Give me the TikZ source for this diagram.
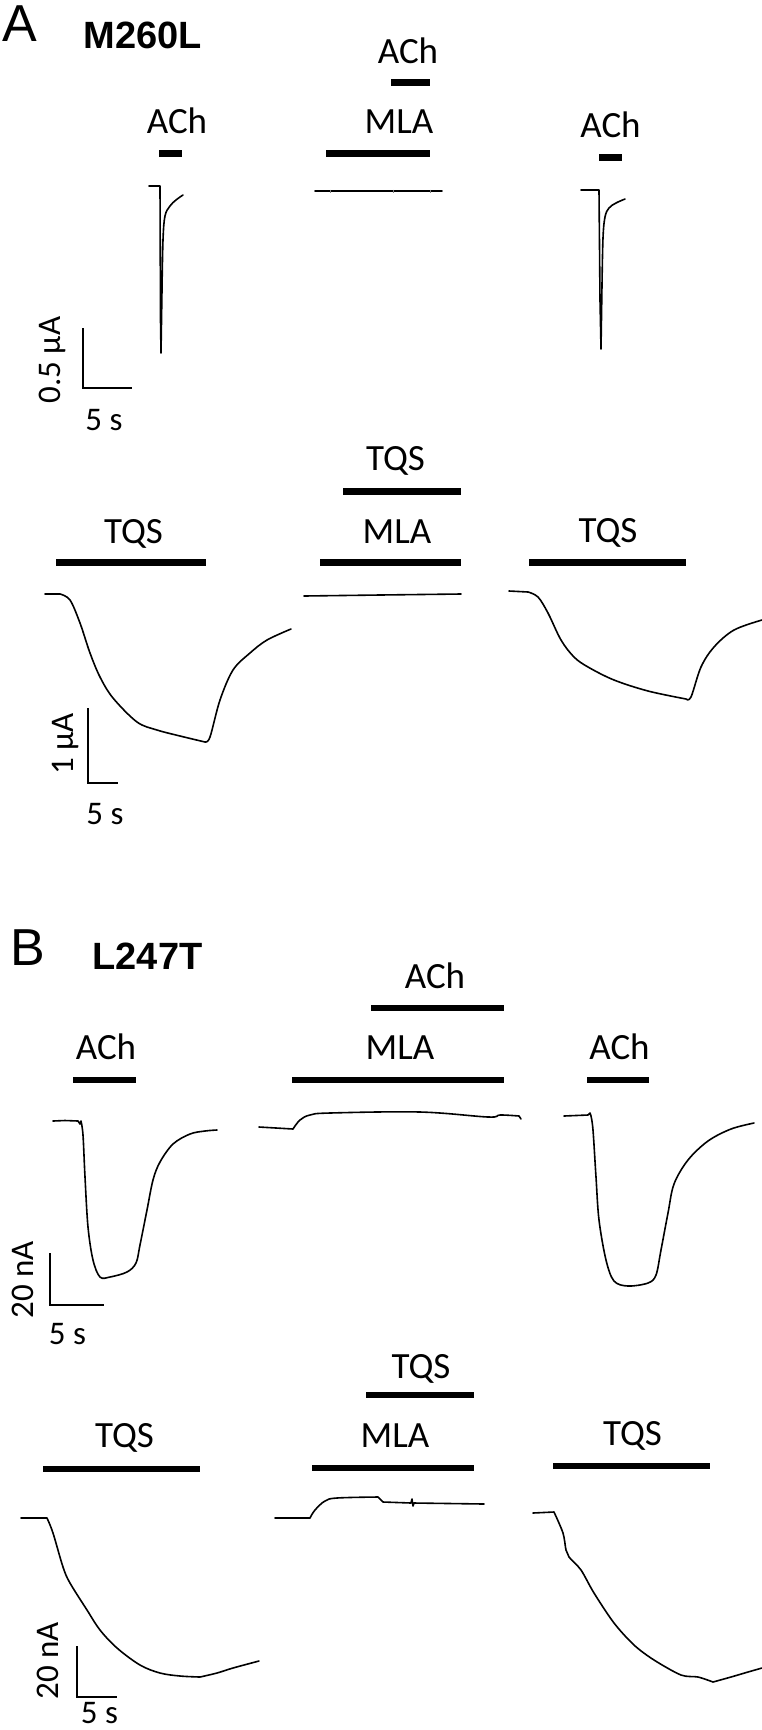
\documentclass[tikz,border=0pt]{standalone}
\usepackage{fontspec}
\setmainfont{Carlito}
\newfontfamily\arialf{Liberation Sans}
\begin{document}
\begin{tikzpicture}[x=1pt,y=-1pt,
  lbl/.style={font=\fontsize{37}{40}\selectfont, inner sep=0pt, anchor=base},
  sclbl/.style={font=\fontsize{33}{36}\selectfont, inner sep=0pt, anchor=base},
  panel/.style={font=\arialf\fontsize{52}{55}\selectfont, inner sep=0pt, anchor=base},
  mut/.style={font=\arialf\bfseries\fontsize{38}{41}\selectfont, inner sep=0pt, anchor=base},
  barA/.style={line width=7pt},
  barB/.style={line width=6.5pt},
  trace/.style={line width=1.6pt, line join=round, line cap=round},
  scbar/.style={line width=2.7pt},
]
\useasboundingbox (0,0) rectangle (762,1730);

% ---------------- Panel A ----------------
\node[panel] (pA) at (20,41) {A};
\node[mut] (mA) at (142.5,48) {M260L};

% row 1 labels
\node[lbl] (a1ach) at (177,133) {ACh};
\node[lbl] (a1achtop) at (408,63) {ACh};
\node[lbl] (a1mla) at (399,133) {MLA};
\node[lbl] (a1ach3) at (610.5,137) {ACh};
% row 1 bars
\draw[barA] (159,153) -- (182,153);
\draw[barA] (391,82) -- (430,82);
\draw[barA] (326,153) -- (430,153);
\draw[barA] (599,157) -- (622,157);
% row 1 traces
\draw[trace] (149,186) -- (160,186) -- (160.5,320) -- (161,353) -- (162,290)
  -- plot[smooth, tension=0.6] coordinates {(162,290) (163,240) (165,216) (170,206) (176,200) (183,195)};
\draw[trace] (315,191) -- (442,191);
\draw[line width=0.5pt, gray] (330,189.5) -- (330,192.5) (393,189.5) -- (393,192.5) (430,189.5) -- (430,192.5);
\draw[trace] (581,190) -- (599,190) -- (600,300) -- (601,349) -- (602,285)
  -- plot[smooth, tension=0.6] coordinates {(602,285) (603,238) (605,217) (609,208) (616,203) (625,199)};
% scale bar A1
\draw[scbar] (83,328) -- (83,388) -- (132,388);
\node[sclbl, rotate=90] (a1sy) at (60,360) {0.5 µA};
\node[sclbl] (a1sx) at (104,430) {5 s};

% row 2 labels
\node[lbl] (a2tqs) at (133.5,543) {TQS};
\node[lbl] (a2tqstop) at (395.5,470) {TQS};
\node[lbl] (a2mla) at (397,543) {MLA};
\node[lbl] (a2tqs3) at (608,542) {TQS};
% row 2 bars
\draw[barA] (56,562) -- (206,562);
\draw[barA] (343,491) -- (461,491);
\draw[barA] (320,562) -- (461,562);
\draw[barA] (529,562) -- (686,562);
% row 2 traces
\draw[trace] (45,594) -- (60,594)
  -- plot[smooth, tension=0.55] coordinates {(60,594) (70,600) (80,623) (90,653) (100,677) (113,698) (137,722) (157,730) (180,736) (205,742)}
  -- plot[smooth, tension=0.55] coordinates {(205,742) (210,737) (220,700) (233,670) (250,653) (267,640) (291,629)};
\draw[trace] (304,596) -- (380,595) -- (461,594);
\draw[trace] (509,591) -- (528,592)
  -- plot[smooth, tension=0.55] coordinates {(528,592) (538,597) (548,613) (561,640) (574,657) (588,667) (614,680) (648,691) (686,699)}
  -- plot[smooth, tension=0.55] coordinates {(686,699) (691,697) (701,667) (714,647) (734,630) (762,620)};
% scale bar A2
\draw[scbar] (88,708) -- (88,783) -- (118,783);
\node[sclbl, rotate=90] (a2sy) at (73,744) {1 µA};
\node[sclbl] (a2sx) at (105,824) {5 s};

% ---------------- Panel B ----------------
\node[panel] (pB) at (27.5,965) {B};
\node[mut] (mB) at (147.5,969) {L247T};

% row 1 labels
\node[lbl] (b1ach) at (106,1059) {ACh};
\node[lbl] (b1achtop) at (435,988) {ACh};
\node[lbl] (b1mla) at (400,1059) {MLA};
\node[lbl] (b1ach3) at (619.5,1059) {ACh};
% row 1 bars
\draw[barB] (73,1080) -- (136,1080);
\draw[barB] (371,1008) -- (504,1008);
\draw[barB] (292,1080) -- (504,1080);
\draw[barB] (587,1080) -- (649,1080);
% row 1 traces
\draw[trace] (53,1121) -- (65,1120.5) -- (78,1121) -- (80,1124) -- (81,1121)
  -- plot[smooth, tension=0.55] coordinates {(81,1121) (83,1135) (85,1177) (88,1227) (93,1260) (100,1277) (110,1277) (127,1272) (136,1263) (140,1245) (147,1210) (153,1180) (160,1162) (173,1144) (190,1134) (205,1131) (217,1130)};
\draw[trace] (259,1127) -- (293,1129)
  -- plot[smooth, tension=0.6] coordinates {(293,1129) (300,1120) (310,1115) (330,1113) (420,1112) (488,1117) (500,1115) (519,1116)} -- (521,1119);
\draw[trace] (564,1116) -- (588,1115) -- (590,1113) -- (591,1116)
  -- plot[smooth, tension=0.55] coordinates {(591,1116) (593,1130) (596,1177) (599,1220) (606,1260) (614,1281) (628,1286) (648,1283) (656,1275) (661,1250) (668,1213) (674,1184) (688,1160) (708,1141) (731,1129) (754,1123)};
% scale bar B1
\draw[scbar] (50,1253) -- (50,1305) -- (104,1305);
\node[sclbl, rotate=90] (b1sy) at (33,1280) {20 nA};
\node[sclbl] (b1sx) at (67.5,1344) {5 s};

% row 2 labels
\node[lbl] (b2tqs) at (124.5,1447) {TQS};
\node[lbl] (b2tqstop) at (421,1378) {TQS};
\node[lbl] (b2mla) at (395,1447) {MLA};
\node[lbl] (b2tqs3) at (632.5,1445) {TQS};
% row 2 bars
\draw[barB] (43,1469) -- (200,1469);
\draw[barB] (366,1395) -- (474,1395);
\draw[barB] (312,1468) -- (474,1468);
\draw[barB] (553,1466) -- (710,1466);
% row 2 traces
\draw[trace] (21,1518) -- (47,1518)
  -- plot[smooth, tension=0.55] coordinates {(47,1518) (53,1533) (63,1567) (70,1583) (87,1610) (100,1630) (117,1648) (140,1665) (160,1673) (180,1676) (200,1677)}
  -- plot[smooth, tension=0.55] coordinates {(200,1677) (217,1673) (233,1668) (259,1661)};
\draw[trace] (275,1518) -- (310,1518)
  -- plot[smooth, tension=0.6] coordinates {(310,1518) (315,1510) (325,1501) (337,1498) (378,1497)}
  -- (383,1502) -- (411,1503) -- (412,1499) -- (413,1506) -- (414,1503) -- (484,1504);
\draw[trace] (533,1513) -- (554,1512)
  -- plot[smooth, tension=0.5] coordinates {(554,1512) (563,1533) (566,1550) (569,1557) (581,1570) (594,1593) (614,1623) (634,1645) (654,1660) (681,1675) (698,1677) (713,1682)}
  -- plot[smooth, tension=0.55] coordinates {(713,1682) (731,1677) (748,1672) (762,1668)};
% scale bar B2
\draw[scbar] (77,1646) -- (77,1697) -- (117,1697);
\node[sclbl, rotate=90] (b2sy) at (58,1661) {20 nA};
\node[sclbl] (b2sx) at (99.5,1723) {5 s};
\end{tikzpicture}
\end{document}
